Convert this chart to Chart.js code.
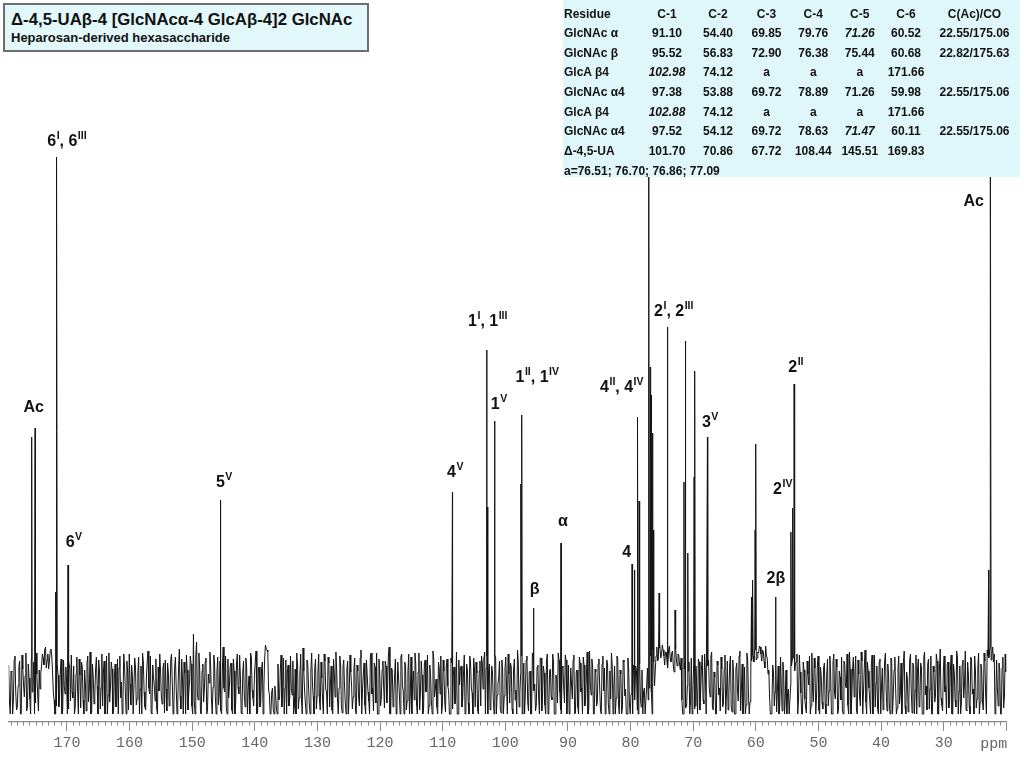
<!DOCTYPE html>
<html>
<head>
<meta charset="utf-8">
<script src="https://cdn.jsdelivr.net/npm/chart.js@4.4.1/dist/chart.umd.min.js"></script>
<style>
  body { margin: 0; background: #fff; font-family: "Liberation Sans", Arial, sans-serif; }
  #wrap { position: relative; width: 1024px; height: 768px; overflow: hidden; }
  #wrap canvas { position: absolute; left: 0; top: 0; }
  .title-box { position: absolute; left: 3px; top: 3px; width: 362px; height: 45px;
    background: #e2f8fb; border: 2px solid #6e6e6e; }
  .title-box .t1 { position: absolute; left: 6px; top: 5px; font-weight: bold; font-size: 16.8px; color: #111; white-space: nowrap; }
  .title-box .t2 { position: absolute; left: 6px; top: 25px; font-weight: bold; font-size: 13px; color: #111; white-space: nowrap; }
  .shifts { position: absolute; left: 563px; top: 0; width: 457px; height: 177px; background: #dff7fa; }
  .shifts table { border-collapse: collapse; table-layout: fixed; width: 457px; margin-top: 4.5px;
    font-weight: bold; font-size: 12px; color: #111; }
  .shifts td { height: 19.65px; padding: 0; text-align: center; white-space: nowrap; line-height: 19.65px; }
  .shifts td:first-child { text-align: left; padding-left: 1px; }
  .shifts td.it { font-style: italic; }
</style>
</head>
<body>
<div id="wrap">
  <canvas id="spec" width="1024" height="768"></canvas>
  <div class="title-box">
    <div class="t1">&Delta;-4,5-UA&beta;-4 [GlcNAc&alpha;-4 GlcA&beta;-4]2 GlcNAc</div>
    <div class="t2">Heparosan-derived hexasaccharide</div>
  </div>
  <div class="shifts"><table id="shiftTable">
    <colgroup>
      <col style="width:78px"><col style="width:52px"><col style="width:50px"><col style="width:47px">
      <col style="width:46.5px"><col style="width:46.5px"><col style="width:46px"><col style="width:91px">
    </colgroup>
    <tbody></tbody>
  </table></div>
</div>
<script>
// ---- chemical shift table (text shown in the box, "*" = italic) ----
const tableHead = ["Residue", "C-1", "C-2", "C-3", "C-4", "C-5", "C-6", "C(Ac)/CO"];
const tableRows = [
  ["GlcNAc α", "91.10", "54.40", "69.85", "79.76", "*71.26", "60.52", "22.55/175.06"],
  ["GlcNAc β", "95.52", "56.83", "72.90", "76.38", "75.44", "60.68", "22.82/175.63"],
  ["GlcA β4", "*102.98", "74.12", "a", "a", "a", "171.66", ""],
  ["GlcNAc α4", "97.38", "53.88", "69.72", "78.89", "71.26", "59.98", "22.55/175.06"],
  ["GlcA β4", "*102.88", "74.12", "a", "a", "a", "171.66", ""],
  ["GlcNAc α4", "97.52", "54.12", "69.72", "78.63", "*71.47", "60.11", "22.55/175.06"],
  ["Δ-4,5-UA", "101.70", "70.86", "67.72", "108.44", "145.51", "169.83", ""]
];
const tableNote = "a=76.51; 76.70; 76.86; 77.09";

// ---- spectrum: peaks (ppm / intensity) ----
const peakPpm = [175.63, 175.06, 171.80, 171.66, 169.83, 145.51, 108.44, 102.98, 102.88, 101.70,
  97.52, 97.38, 95.52, 91.10, 79.76, 79.40, 78.89, 78.63, 77.09, 76.86, 76.70, 76.51, 76.38,
  75.44, 74.12, 72.90, 71.47, 71.26, 70.86, 69.85, 69.72, 67.72, 60.68, 60.52, 60.11, 59.98,
  56.83, 54.40, 54.12, 53.88, 22.82, 22.55];
const peakHeight = [243, 252, 88, 523, 115, 180, 188, 330, 173, 259,
  196, 265, 72, 137, 116, 110, 263, 179, 560, 313, 285, 247, 150,
  87, 353, 70, 198, 339, 127, 203, 309, 243, 83, 100, 150, 236,
  83, 148, 172, 296, 110, 560];

// ---- baseline noise, read as a band: 0.25 ppm grid from 179.3 ppm upfield ----
const noiseStart = 179.3;
const noiseStep = 0.25;
const noise = [
  15,-34,8,-21,24,-30,-6,19,-34,11,-17,27,-26,2,-34,-12,18,-23,6,-31,
  -9,14,22,30,12,26,18,31,8,-20,-34,16,-27,9,-34,20,-14,-3,-29,12,
  25,-18,-34,6,-11,21,-28,13,-34,-4,17,-22,28,-32,3,-15,23,-34,10,-8,
  -26,19,-13,-34,27,-7,11,-30,16,-21,-34,24,-2,-17,14,-34,8,26,-25,5,
  -34,12,-19,23,-9,-34,18,-27,4,29,-14,-33,15,-6,21,-34,-11,9,-24,17,
  20,-31,7,-16,26,-34,13,-8,-22,31,-29,1,18,-34,10,-13,24,-26,46,-34,
  38,-20,11,-34,16,-9,22,-30,-3,14,-34,25,-17,8,-25,19,-34,33,-12,-28,
  21,-5,17,-34,9,-23,26,-14,3,-34,19,-27,12,-8,-34,23,-18,6,29,-31,
  13,-22,18,-6,35,30,-10,-34,-12,-30,-6,-28,16,-19,25,-12,-34,20,8,-26,
  24,-15,-34,11,27,-29,5,-20,32,-11,-34,17,-24,9,-3,-34,21,-16,26,-30,
  2,-34,19,-12,23,-27,14,-34,6,28,-19,-8,15,-33,20,-23,11,-34,25,-5,
  -17,22,-34,9,-26,30,-10,17,-34,4,-21,24,-14,-31,13,27,-34,7,-18,19,
  -28,14,-7,33,-34,10,-16,21,-25,3,-34,26,-11,18,-30,8,-34,23,-4,-20,
  16,-34,27,-13,5,-29,20,-8,-34,15,-22,29,-17,1,-34,12,24,-26,9,-32,
  21,-11,-34,17,6,-24,28,-34,-5,14,-19,25,-30,10,-34,18,-13,22,-27,7,
  -34,19,24,-9,28,12,-34,16,-21,8,-34,23,-15,3,-29,20,-34,11,-6,26,
  -23,13,-34,21,-10,30,-27,6,-34,17,-14,24,-31,9,-34,19,-4,-25,15,-34,
  22,-16,7,-34,26,-29,11,-20,18,-34,2,27,-12,-34,14,-23,20,-7,-34,12,
  -19,25,-33,10,-34,17,-8,23,-26,4,-34,29,-15,13,-34,8,-22,21,-30,16,
  -11,-34,20,-24,9,27,-34,14,-18,22,-34,6,-28,18,-9,-34,11,-34,-10,15,
  -20,8,-34,16,-27,-34,-8,-34,12,-8,24,-34,18,10,33,21,36,26,30,15,
  28,12,34,18,29,8,31,14,25,10,-20,-34,17,-26,9,-34,22,-13,-29,14,
  -34,18,-11,25,-24,6,-34,20,-17,28,-30,3,-34,15,-8,23,-27,11,-34,19,
  -14,24,-32,7,-34,17,-21,29,-9,-34,13,-25,21,-34,4,26,18,30,22,27,
  33,19,28,12,24,6,-18,-34,15,-26,20,-10,-34,23,-31,8,-19,-34,-9,-34,
  14,22,9,18,-34,25,-13,-34,10,-27,19,-5,-34,27,-22,12,-16,24,-34,4,
  -29,17,-34,21,-11,8,-34,26,-19,13,-30,3,23,-34,16,-8,-25,28,-34,11,
  -17,24,-34,6,-26,19,-12,30,-34,9,-21,15,-34,25,-3,-28,18,-34,12,-14,
  27,-31,5,-34,20,-16,23,-34,11,-24,17,-7,29,-34,2,-19,26,-33,14,-10,
  -34,21,-22,13,-34,28,-6,16,-29,24,-34,8,-15,19,-34,31,-25,10,-12,-34,
  18,-20,25,-34,7,-27,22,-11,-34,15,-18,29,-31,6,-34,20,-9,24,-28,12,
  -34,16,-23,27,-14,30,22,34,25,18,-34,20,-26,11,-34,23,-17,8
];
// noise read between those grid points (half a step further upfield)
const noiseMid = [
  -22,9,-34,20,-12,-27,13,-34,25,-5,4,-31,16,-19,22,-8,-34,27,-15,10,
  7,26,15,33,20,11,29,24,-12,-34,-26,5,-18,21,-30,-6,13,-34,19,-21,
  -12,14,-27,23,-34,5,18,-20,10,-31,24,-9,-34,16,-24,11,-6,20,-29,26,
  8,-34,24,-15,-22,18,-34,3,-27,21,12,-18,-34,26,-11,19,-30,-4,15,-34,
  22,-25,6,-34,14,27,-12,-30,19,-8,24,-34,3,-21,-28,13,26,-17,11,-33,
  -9,17,-26,20,-4,-28,23,-34,12,-16,21,-34,7,25,-30,-2,16,-34,-20,23,
  -14,27,-33,9,-22,18,-34,6,28,-19,-7,17,-34,23,-13,-30,12,-8,24,-34,
  -18,14,-30,21,-34,16,-7,25,-33,8,-15,22,-34,4,27,-10,-26,19,-34,12,
  -27,10,-34,22,31,28,-14,-32,-8,-34,-15,-34,-20,11,-27,22,-8,-34,15,-18,
  -8,19,-26,-34,14,-18,26,-34,9,-23,20,-5,-34,27,-16,12,-29,6,-20,18,
  -21,26,-9,-34,17,-4,-30,21,-17,9,-34,24,-26,13,-6,-34,19,-14,8,-29,
  11,-30,15,-18,22,-34,6,-25,20,-12,-34,27,-8,17,-23,-34,21,-26,10,-7,
  19,-23,24,-34,12,-27,5,-34,18,-13,23,-6,-34,14,-21,26,-15,-34,9,27,
  -24,8,-30,19,-34,16,-12,25,-26,3,-34,21,-9,-27,18,-14,-34,20,-22,13,
  -6,-34,22,-29,13,-18,-34,20,11,-27,7,-34,16,-23,24,-8,-34,12,18,-30,
  9,-26,17,21,-34,24,8,-30,14,-19,25,-34,-4,19,-33,10,-16,23,-34,6,
  17,-29,11,-20,-34,18,-13,24,-6,-34,20,-22,8,-34,27,-11,-31,13,-18,22,
  -31,14,-25,19,-34,9,-17,26,-34,5,-23,20,-30,12,-8,25,-34,15,-21,-4,
  20,-34,8,-27,23,-12,-34,15,-20,28,-29,-3,21,-34,11,-26,16,-9,-34,24,
  12,-28,16,-34,-19,14,-8,-34,24,-25,10,-34,20,-16,-34,22,-24,-14,-34,8,
  14,-30,22,-18,10,-12,-34,-6,-20,26,-12,30,-6,24,19,32,22,35,24,28,
  18,30,22,27,14,33,20,26,16,22,-34,11,-28,-6,18,-22,-34,16,-26,-8,
  21,-30,12,-20,26,-34,14,-8,23,-27,8,-34,19,-15,-31,11,-24,25,-12,-30,
  15,-26,20,-34,11,-10,24,-31,16,-20,-34,27,-13,-22,19,24,32,20,28,34,
  26,30,18,34,22,10,-34,-24,8,-12,-32,14,-25,-6,18,-34,10,-14,-34,-5,
  20,28,16,26,-20,8,-34,18,-19,-33,6,24,-26,-10,22,-34,14,-30,13,-22,
  12,-24,6,-26,24,-34,17,-13,21,-34,9,-20,-30,19,-6,26,-34,11,-18,23,
  7,-30,20,-17,28,-34,13,-22,18,-8,-34,25,-16,-27,14,-34,21,-6,-30,19,
  -12,16,-25,22,-34,10,-8,-28,24,-14,-34,19,-26,8,-32,20,-11,17,-34,25,
  11,-27,17,-34,23,-15,-30,21,-9,-34,14,-22,26,-34,12,-18,-31,24,-6,16,
  -28,10,-34,16,-20,29,-34,14,-24,20,-5,-30,18,-26,23,-14,-34,9,-19,27,
  -22,9,-30,19,-34,24,28,20,33,26,-22,-8,17,-34,12,-28,26
];

// ---- peak assignments ("^" starts a superscript) ----
const labelText = ["6^I, 6^III", "Ac", "6^V", "5^V", "4^V", "1^I, 1^III", "1^V", "1^II, 1^IV",
  "β", "α", "4", "4^II, 4^IV", "2^I, 2^III", "3^V", "2β", "2^IV", "2^II", "Ac"];
const labelPpm = [170.0, 175.3, 168.9, 144.9, 108.0, 102.8, 101.0, 94.9,
  95.3, 90.8, 80.6, 81.4, 73.1, 67.3, 56.8, 55.7, 53.6, 25.2];
const labelLevel = [538, 272, 137, 197, 207, 358, 275, 302,
  90, 158, 127, 292, 368, 257, 101, 190, 312, 478];

/* ================= TABLE ================= */
const cell = s => s.startsWith("*") ? `<td class="it">${s.slice(1)}</td>` : `<td>${s}</td>`;
document.querySelector("#shiftTable tbody").innerHTML =
  `<tr>${tableHead.map(cell).join("")}</tr>` +
  tableRows.map(r => `<tr>${r.map(cell).join("")}</tr>`).join("") +
  `<tr><td colspan="8">${tableNote}</td></tr>`;

/* ================= SPECTRUM ================= */
const points = noise.map((v, i) => ({ x: noiseStart - i * noiseStep, y: v }))
  .concat(noiseMid.map((v, i) => ({ x: noiseStart - (i + 0.5) * noiseStep, y: v })))
  .concat(peakPpm.map((p, i) => ({ x: p, y: peakHeight[i] })))
  .sort((a, b) => b.x - a.x);

const minorTicks = {
  id: "minorTicks",
  afterDraw(chart) {
    const sx = chart.scales.x, ctx = chart.ctx, y0 = chart.chartArea.bottom;
    ctx.save();
    ctx.strokeStyle = "#8a8a8a";
    ctx.lineWidth = 1;
    for (let v = 21; v < 180; v++) {
      if (v % 10 === 0) continue;
      const px = Math.round(sx.getPixelForValue(v)) + 0.5;
      ctx.beginPath(); ctx.moveTo(px, y0); ctx.lineTo(px, y0 + 3.5); ctx.stroke();
    }
    ctx.font = '15px "Liberation Mono", "DejaVu Sans Mono", monospace';
    ctx.fillStyle = "#666";
    ctx.textAlign = "right";
    ctx.textBaseline = "middle";
    ctx.fillText("ppm", sx.right + 1, 744);
    ctx.restore();
  }
};

const peakLabels = {
  id: "peakLabels",
  afterDatasetsDraw(chart) {
    const { ctx, scales: { x, y } } = chart;
    const big = 'bold 16px "Liberation Sans", Arial, sans-serif';
    const small = 'bold 10.5px "Liberation Sans", Arial, sans-serif';
    ctx.save();
    ctx.fillStyle = "#111";
    ctx.textBaseline = "middle";
    ctx.textAlign = "left";
    labelText.forEach((txt, i) => {
      const parts = txt.split(/(\^[IVX]+)/).filter(s => s.length);
      const widths = parts.map(s => {
        ctx.font = s[0] === "^" ? small : big;
        return ctx.measureText(s[0] === "^" ? s.slice(1) : s).width + (s[0] === "^" ? 0.5 : 0);
      });
      let px = x.getPixelForValue(labelPpm[i]) - widths.reduce((a, b) => a + b, 0) / 2;
      const py = y.getPixelForValue(labelLevel[i]);
      parts.forEach((s, k) => {
        if (s[0] === "^") { ctx.font = small; ctx.fillText(s.slice(1), px + 0.5, py - 6); }
        else { ctx.font = big; ctx.fillText(s, px, py); }
        px += widths[k];
      });
    });
    ctx.restore();
  }
};

new Chart(document.getElementById("spec"), {
  type: "line",
  data: {
    datasets: [{
      data: points,
      borderColor: "#151515",
      borderWidth: 1,
      pointRadius: 0,
      tension: 0,
      fill: false
    }]
  },
  options: {
    responsive: false,
    animation: false,
    events: [],
    layout: { padding: { left: 8.7, right: 17.7, top: 0, bottom: 0 } },
    plugins: { legend: { display: false }, tooltip: { enabled: false } },
    scales: {
      x: {
        type: "linear",
        reverse: true,
        min: 20,
        max: 179.3,
        afterFit: s => { s.height = 46; },
        border: { display: true, color: "#8a8a8a", width: 1.2 },
        grid: { drawOnChartArea: false, drawTicks: true, tickLength: 9, tickColor: "#8a8a8a" },
        ticks: {
          stepSize: 10,
          includeBounds: false,
          autoSkip: false,
          maxRotation: 0,
          padding: 3,
          color: "#666",
          font: { family: '"Liberation Mono", "DejaVu Sans Mono", monospace', size: 15 },
          callback: v => (v === 20 ? "" : v)
        }
      },
      y: { display: false, min: -42, max: 680 }
    }
  },
  plugins: [minorTicks, peakLabels]
});
</script>
</body>
</html>
